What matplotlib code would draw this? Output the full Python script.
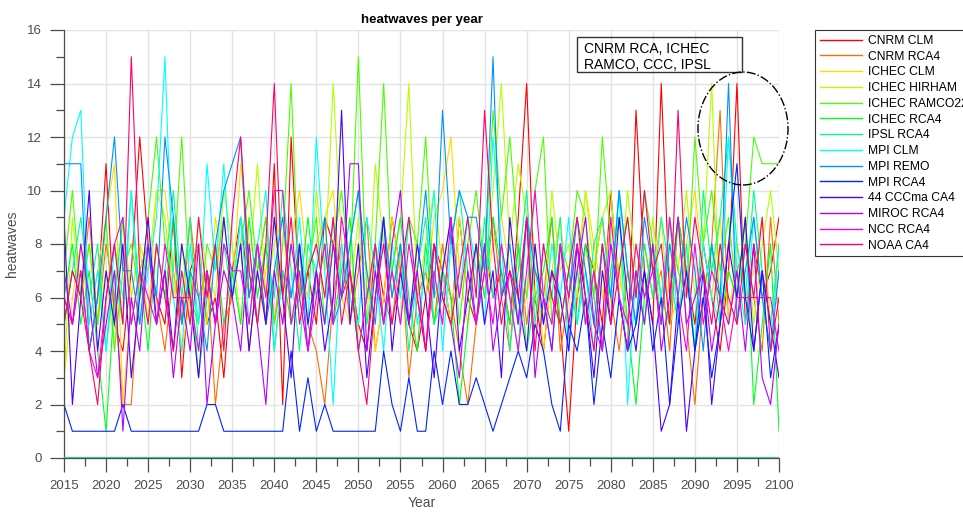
import colorsys
import numpy as np
import matplotlib
matplotlib.use("Agg")
import matplotlib.pyplot as plt
from matplotlib.patches import Rectangle, Ellipse

plt.rcParams['font.family'] = ['Liberation Sans', 'DejaVu Sans']

years = np.arange(2015, 2101)

models = ['CNRM CLM', 'CNRM RCA4', 'ICHEC CLM', 'ICHEC HIRHAM', 'ICHEC RAMCO22',
          'ICHEC RCA4', 'IPSL RCA4', 'MPI CLM', 'MPI REMO', 'MPI RCA4',
          '44 CCCma CA4', 'MIROC RCA4', 'NCC RCA4', 'NOAA CA4']

# heatwave counts per year, 2015-2100
cnrm_clm = [6, 5, 7, 4, 6, 11, 5, 4, 7, 12,
            8, 6, 5, 9, 3, 7, 8, 5, 6, 3,
            7, 9, 6, 8, 5, 11, 2, 12, 6, 7,
            5, 9, 8, 6, 7, 5, 4, 8, 6, 9,
            7, 5, 4, 6, 8, 7, 5, 9, 6, 5,
            8, 6, 7, 5, 9, 14, 6, 4, 7, 5,
            1, 6, 8, 7, 5, 10, 6, 4, 13, 7,
            5, 14, 6, 9, 7, 5, 8, 6, 4, 7,
            14, 5, 8, 6, 7, 9]
cnrm_rca4 = [5, 7, 6, 9, 5, 8, 6, 2, 2, 7,
             8, 6, 4, 7, 5, 9, 6, 7, 2, 5,
             6, 8, 4, 7, 9, 5, 7, 6, 8, 5,
             4, 2, 6, 8, 5, 7, 9, 4, 6, 5,
             8, 3, 6, 7, 5, 8, 6, 4, 2, 5,
             7, 9, 6, 4, 8, 5, 7, 6, 9, 4,
             6, 8, 5, 7, 9, 6, 4, 7, 5, 8,
             6, 7, 4, 9, 5, 2, 6, 8, 13, 5,
             7, 8, 6, 4, 9, 5]
ichec_clm = [3, 6, 8, 5, 7, 9, 11, 2, 6, 8,
             5, 10, 10, 7, 4, 6, 8, 5, 9, 7,
             6, 11, 8, 5, 7, 9, 6, 8, 10, 7,
             8, 9, 10, 6, 5, 8, 7, 4, 6, 9,
             7, 5, 8, 6, 9, 10, 12, 7, 5, 8,
             6, 8, 9, 7, 5, 6, 8, 4, 7, 9,
             5, 7, 10, 8, 6, 9, 7, 5, 8, 6,
             7, 9, 5, 6, 8, 10, 7, 6, 9, 5,
             8, 6, 7, 9, 5, 7]
ichec_hirham = [3, 9, 6, 8, 5, 7, 4, 9, 6, 8,
                7, 10, 9, 6, 8, 5, 9, 7, 6, 10,
                8, 5, 7, 11, 6, 8, 9, 5, 7, 6,
                10, 7, 14, 8, 6, 9, 5, 11, 8, 7,
                9, 14, 6, 8, 10, 7, 5, 9, 6, 8,
                7, 10, 14, 8, 11, 9, 6, 5, 10, 7,
                8, 6, 10, 7, 9, 10, 6, 10, 7, 5,
                9, 6, 8, 7, 10, 6, 8, 14, 5, 7,
                6, 9, 5, 8, 10, 7]
ichec_ramco = [7, 10, 6, 8, 5, 9, 4, 7, 8, 6,
               9, 12, 8, 7, 12, 6, 5, 8, 7, 9,
               6, 8, 10, 7, 9, 5, 8, 14, 6, 7,
               9, 5, 8, 10, 7, 15, 6, 8, 14, 7,
               5, 9, 8, 12, 6, 7, 9, 5, 8, 10,
               7, 13, 9, 12, 8, 6, 10, 12, 5, 8,
               7, 10, 9, 6, 12, 8, 7, 9, 6, 10,
               8, 5, 9, 7, 6, 12, 8, 10, 7, 9,
               6, 8, 12, 11, 11, 11]
ichec_rca4 = [6, 8, 5, 7, 4, 1, 6, 9, 5, 7,
              4, 8, 6, 9, 5, 7, 3, 6, 8, 5,
              7, 5, 9, 6, 8, 4, 7, 5, 6, 9,
              6, 8, 5, 7, 9, 4, 6, 8, 5, 7,
              9, 6, 4, 8, 5, 7, 6, 2, 5, 8,
              6, 9, 7, 5, 8, 4, 6, 7, 9, 5,
              7, 5, 8, 6, 4, 7, 9, 5, 2, 6,
              8, 6, 5, 9, 7, 4, 6, 8, 5, 7,
              6, 9, 2, 5, 8, 1]
ipsl_rca4 = [5, 7, 9, 6, 8, 4, 7, 5, 10, 6,
             8, 5, 7, 10, 6, 9, 4, 7, 5, 8,
             6, 9, 7, 5, 8, 6, 10, 7, 4, 8,
             7, 5, 9, 6, 8, 10, 5, 7, 9, 6,
             8, 4, 7, 9, 5, 6, 8, 10, 7, 5,
             9, 6, 8, 4, 7, 10, 5, 8, 6, 9,
             4, 7, 5, 8, 9, 6, 10, 7, 5, 8,
             6, 9, 7, 5, 8, 4, 10, 7, 9, 12,
             8, 6, 10, 7, 5, 8]
mpi_clm = [9, 12, 13, 5, 7, 4, 8, 6, 10, 5,
           7, 9, 15, 6, 4, 8, 5, 11, 7, 11,
           6, 9, 5, 8, 10, 4, 7, 6, 9, 5,
           12, 7, 2, 8, 6, 5, 9, 7, 4, 8,
           6, 9, 5, 7, 10, 4, 8, 6, 9, 7,
           5, 12, 8, 6, 4, 9, 7, 5, 8, 6,
           9, 5, 7, 4, 8, 6, 10, 2, 7, 5,
           8, 6, 9, 5, 7, 4, 8, 6, 5, 12,
           7, 5, 9, 6, 4, 8]
mpi_remo = [11, 11, 11, 4, 6, 9, 12, 7, 7, 5,
            8, 6, 12, 9, 5, 7, 6, 4, 8, 10,
            11, 12, 6, 8, 5, 7, 9, 6, 8, 4,
            7, 9, 5, 6, 8, 10, 7, 5, 9, 6,
            8, 5, 7, 10, 6, 13, 8, 10, 9, 9,
            7, 15, 6, 8, 5, 9, 7, 6, 4, 8,
            6, 9, 7, 5, 8, 6, 10, 7, 5, 9,
            7, 5, 8, 6, 9, 7, 4, 8, 6, 14,
            5, 7, 9, 6, 4, 7]
mpi_rca4 = [2, 1, 1, 1, 1, 1, 1, 2, 1, 1,
            1, 1, 1, 1, 1, 1, 1, 2, 2, 1,
            1, 1, 1, 1, 1, 1, 1, 4, 1, 3,
            1, 2, 1, 1, 1, 1, 1, 1, 4, 2,
            1, 3, 1, 1, 4, 2, 4, 2, 2, 3,
            2, 1, 2, 3, 4, 3, 5, 4, 2, 1,
            5, 4, 6, 2, 5, 3, 6, 4, 5, 7,
            4, 6, 2, 5, 7, 4, 6, 3, 5, 8,
            11, 6, 4, 7, 3, 5]
cccma_ca4 = [9, 2, 6, 10, 4, 7, 5, 8, 3, 6,
             9, 5, 7, 4, 8, 6, 3, 7, 5, 9,
             6, 8, 4, 7, 5, 9, 6, 3, 8, 5,
             7, 4, 6, 13, 5, 8, 3, 6, 9, 4,
             7, 5, 8, 6, 3, 7, 9, 4, 6, 8,
             5, 7, 3, 9, 6, 4, 8, 5, 7, 6,
             4, 8, 6, 3, 7, 5, 9, 6, 4, 7,
             5, 1, 2, 6, 1, 4, 7, 2, 5, 8,
             6, 9, 4, 7, 5, 3]
miroc_rca4 = [7, 5, 8, 6, 3, 5, 7, 1, 6, 4,
              8, 5, 7, 3, 6, 4, 8, 2, 5, 7,
              6, 4, 8, 5, 2, 7, 5, 8, 6, 4,
              7, 5, 8, 6, 11, 11, 4, 7, 5, 8,
              10, 5, 7, 4, 8, 6, 5, 3, 7, 5,
              8, 4, 6, 7, 5, 9, 3, 6, 4, 8,
              5, 7, 9, 5, 4, 8, 6, 4, 7, 5,
              8, 4, 6, 9, 5, 6, 7, 4, 6, 5,
              7, 4, 8, 3, 2, 5]
ncc_rca4 = [6, 5, 7, 4, 3, 6, 8, 9, 5, 7,
            6, 5, 8, 6, 6, 6, 4, 7, 5, 8,
            7, 7, 5, 8, 6, 10, 10, 5, 7, 4,
            6, 8, 5, 9, 7, 4, 6, 8, 5, 7,
            5, 8, 6, 4, 7, 5, 9, 6, 8, 5,
            7, 5, 8, 6, 4, 7, 10, 6, 5, 8,
            6, 8, 5, 7, 4, 9, 6, 5, 8, 6,
            7, 5, 9, 6, 4, 8, 5, 7, 6, 4,
            6, 6, 6, 6, 6, 4]
noaa_ca4 = [5, 7, 6, 4, 2, 6, 8, 5, 15, 7,
            5, 8, 6, 4, 7, 5, 9, 6, 8, 4,
            9, 12, 7, 5, 8, 14, 6, 9, 5, 7,
            8, 6, 9, 5, 7, 4, 2, 6, 8, 5,
            7, 9, 6, 4, 8, 6, 5, 7, 9, 6,
            13, 8, 5, 7, 6, 9, 4, 8, 6, 5,
            7, 9, 6, 4, 8, 5, 7, 9, 6, 10,
            7, 8, 5, 13, 6, 9, 7, 5, 8, 6,
            5, 8, 6, 9, 4, 6]

series = [cnrm_clm, cnrm_rca4, ichec_clm, ichec_hirham, ichec_ramco, ichec_rca4,
          ipsl_rca4, mpi_clm, mpi_remo, mpi_rca4, cccma_ca4, miroc_rca4,
          ncc_rca4, noaa_ca4]

note = 'CNRM RCA, ICHEC\nRAMCO, CCC, IPSL'

# hsv colour cycle, one hue per model
colors = [colorsys.hsv_to_rgb(i / len(models), 1, 1) for i in range(len(models))]

fig = plt.figure(figsize=(9.63, 5.12), dpi=100)
ax = fig.add_axes([64 / 963, 1 - 458 / 512, 715 / 963, 428 / 512])

for name, vals, c in zip(models, series, colors):
    ax.plot(years, vals, color=c, lw=0.8, label=name)

ax.axhline(0, color='#3cc88c', lw=1.6, zorder=3)

ax.set_xlim(2015, 2100)
ax.set_ylim(0, 16)
ax.set_xticks(np.arange(2015, 2101, 5))
ax.set_xticks(np.arange(2015, 2101, 2.5), minor=True)
ax.set_yticks(np.arange(0, 17, 2))
ax.set_yticks(np.arange(0, 17, 1), minor=True)
ax.grid(True, which='major', color='#e3e3e3', lw=1.0)
ax.set_axisbelow(True)

for s in ['top', 'right']:
    ax.spines[s].set_visible(False)
for s in ['left', 'bottom']:
    ax.spines[s].set_color('#4d4d4d')
    ax.spines[s].set_linewidth(0.9)

ax.tick_params(which='major', direction='out', length=10, width=0.9,
               color='#4d4d4d', labelcolor='#4d4d4d', labelsize=9.5, pad=6)
ax.tick_params(which='minor', direction='out', length=5.5, width=0.9, color='#4d4d4d')

ax.set_xlabel('Year', fontsize=10, color='#4d4d4d', labelpad=3)
ax.set_ylabel('heatwaves', fontsize=10, color='#4d4d4d', labelpad=6)
ax.set_title('heatwaves per year', fontsize=9.5, fontweight='bold', pad=5)

leg = fig.legend(loc='upper left', bbox_to_anchor=(815 / 963, 1 - 30 / 512),
                 fontsize=8.7, frameon=True, fancybox=False, framealpha=1,
                 edgecolor='#333333', handlelength=3.5, handletextpad=0.5,
                 labelspacing=0.31, borderpad=0.4, borderaxespad=0)
leg.get_frame().set_linewidth(0.8)
for h in leg.get_lines():
    h.set_linewidth(1.0)

# annotation box and circled region
fig.patches.append(Rectangle((577 / 963, 1 - 72 / 512), 165 / 963, 35 / 512,
                             transform=fig.transFigure, fill=False,
                             edgecolor='#333333', lw=1.0, zorder=5))
fig.text(584 / 963, 1 - 57 / 512, note, fontsize=10, va='center', ha='left',
         linespacing=1.2, transform=fig.transFigure, zorder=6)
fig.patches.append(Ellipse((743 / 963, 1 - 128.5 / 512), 90 / 963, 113 / 512,
                           transform=fig.transFigure, fill=False,
                           edgecolor='black', lw=1.0, ls='-.', zorder=5))

fig.savefig('out.png', dpi=100)
